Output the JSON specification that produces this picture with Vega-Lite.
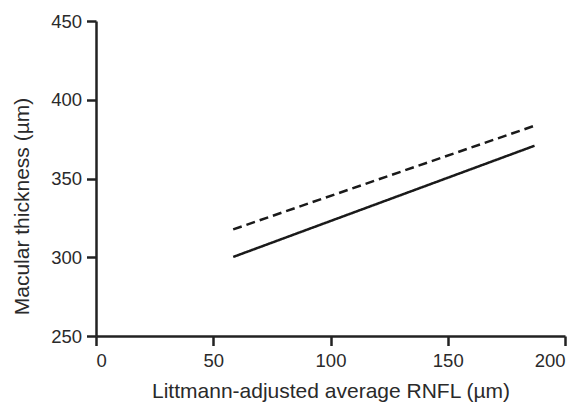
{
  "$schema": "https://vega.github.io/schema/vega-lite/v6.json",
  "width": 469,
  "height": 315,
  "autosize": {"type": "none"},
  "padding": {"left": 96, "top": 21, "right": 21, "bottom": 66},
  "background": "white",
  "config": {
    "view": {"stroke": null},
    "font": "Liberation Sans",
    "axis": {
      "grid": false,
      "domainColor": "#222222",
      "domainWidth": 2.5,
      "tickColor": "#222222",
      "tickWidth": 2.5,
      "tickSize": 9.5,
      "labelColor": "#2a2a2a",
      "labelFont": "Liberation Sans",
      "labelFontSize": 18.5,
      "titleFont": "Liberation Sans",
      "titleFontSize": 21,
      "titleFontWeight": "normal",
      "titleColor": "#2a2a2a"
    }
  },
  "data": {
    "values": [
      {"rnfl": 58.5, "macular": 300.2, "group": "solid"},
      {"rnfl": 187, "macular": 370.8, "group": "solid"},
      {"rnfl": 58.5, "macular": 317.7, "group": "dashed"},
      {"rnfl": 187, "macular": 383.5, "group": "dashed"}
    ]
  },
  "mark": {"type": "line", "color": "#1a1a1a", "strokeWidth": 2.5},
  "encoding": {
    "x": {
      "field": "rnfl",
      "type": "quantitative",
      "scale": {"domain": [0, 200], "nice": false},
      "axis": {
        "values": [0, 50, 100, 150, 200],
        "title": "Littmann-adjusted average RNFL (µm)",
        "labelPadding": 6,
        "titleY": 61,
        "titleBaseline": "alphabetic"
      }
    },
    "y": {
      "field": "macular",
      "type": "quantitative",
      "scale": {"domain": [250, 450], "nice": false, "zero": false},
      "axis": {
        "values": [250, 300, 350, 400, 450],
        "title": "Macular thickness (µm)",
        "labelPadding": 5,
        "titleX": -68,
        "titleY": 185,
        "titleAngle": -90,
        "titleAlign": "center",
        "titleBaseline": "alphabetic"
      }
    },
    "strokeDash": {
      "field": "group",
      "type": "nominal",
      "scale": {"domain": ["solid", "dashed"], "range": [[1, 0], [9, 5]]},
      "legend": null
    }
  }
}
